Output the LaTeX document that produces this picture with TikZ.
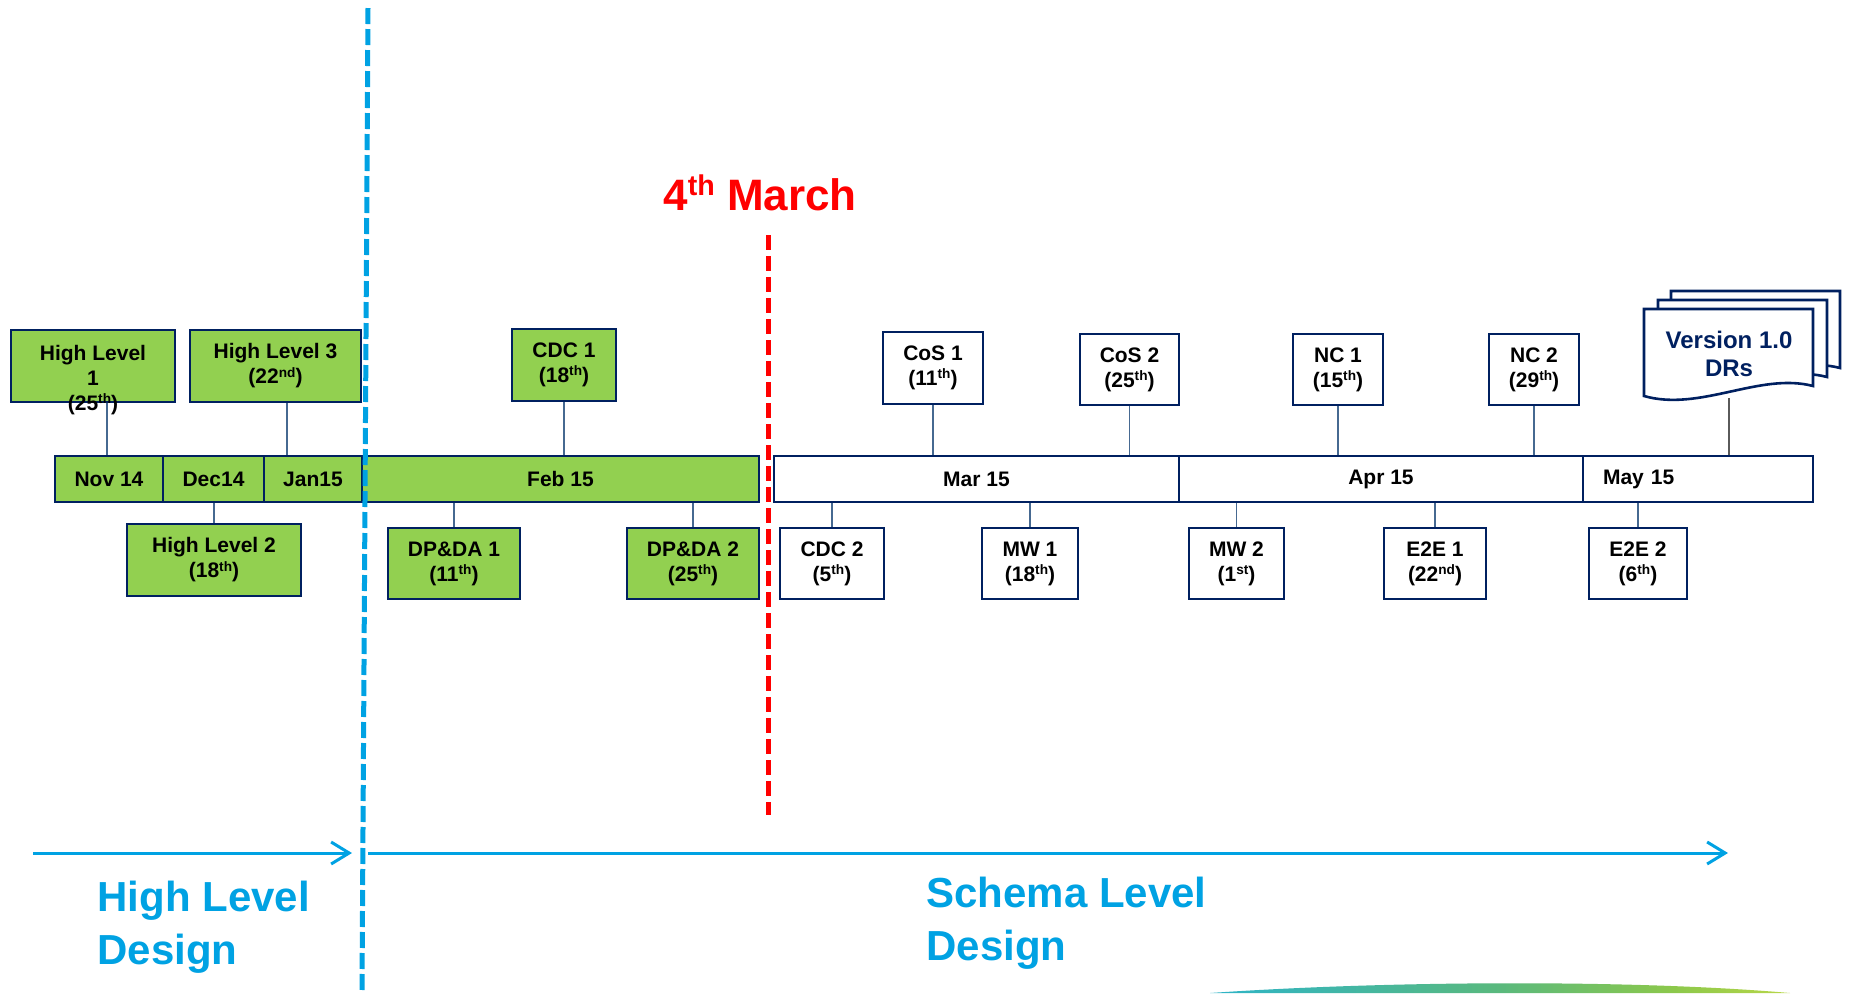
\documentclass[tikz,border=0pt]{standalone}
\usepackage{fontspec}
\setmainfont{Liberation Sans}
\usetikzlibrary{arrows.meta}
\definecolor{gfill}{RGB}{146,208,80}
\definecolor{navy}{RGB}{0,32,96}
\definecolor{conn}{RGB}{70,105,145}
\definecolor{skyb}{RGB}{0,162,227}
\definecolor{vconn}{RGB}{90,90,90}
\definecolor{swA}{RGB}{205,240,246}
\definecolor{swB}{RGB}{45,180,200}
\definecolor{swC}{RGB}{90,185,125}
\definecolor{swD}{RGB}{140,200,75}
\definecolor{swE}{RGB}{215,225,70}
\definecolor{swF}{RGB}{245,248,215}
\pgfdeclarehorizontalshading{swoosh}{100bp}{
  color(0bp)=(white);
  color(8bp)=(swA);
  color(25bp)=(swB);
  color(50bp)=(swC);
  color(65bp)=(swD);
  color(82bp)=(swE);
  color(93bp)=(swF);
  color(100bp)=(white)}
\newcommand{\sps}[1]{\raisebox{0.32em}{\scalebox{0.65}{#1}}}
\tikzset{
 boxtext/.style={font=\bfseries\fontsize{10.5}{12.5}\selectfont, align=center},
 gbox/.style={draw=navy, line width=1.3pt, fill=gfill, inner sep=0pt, boxtext},
 wbox/.style={draw=navy, line width=1.3pt, fill=white, inner sep=0pt, boxtext},
 gbar/.style={draw=navy, line width=1.1pt, fill=gfill, inner sep=0pt, minimum height=23pt, boxtext},
 wbar/.style={draw=navy, line width=1.1pt, fill=white, inner sep=0pt, minimum height=23pt, boxtext},
 conline/.style={draw=conn, line width=0.8pt},
 verline/.style={draw=vconn, line width=0.9pt},
 docshape/.style={draw=navy, line width=1.3pt, fill=white, line join=miter},
 phasearrow/.style={draw=skyb, line width=1.5pt, -{Straight Barb[length=9pt,width=11pt,line width=1.5pt]}},
 phaselabel/.style={text=skyb, font=\bfseries\fontsize{21}{26.5}\selectfont, align=left, anchor=north west, inner sep=0pt},
 phasedivider/.style={draw=skyb, line width=2.5pt, dash pattern=on 8pt off 2.5pt},
 todayline/.style={draw=red, line width=2.5pt, dash pattern=on 7.5pt off 3pt},
}
\begin{document}
\begin{tikzpicture}[x=0.5pt,y=-0.5pt]
\useasboundingbox (0,0) rectangle (1849,993);
\fill[white] (0,0) rectangle (1849,993);

% swoosh at bottom
\shade[shading=swoosh]
  (1210,993) .. controls (1400,980) and (1640,980) .. (1790,993) -- cycle;

% timeline bar
\node[gbar, minimum width=54pt]   (nov) at (109,479)   {Nov 14};
\node[gbar, minimum width=50.5pt] (dec) at (213.5,479) {Dec14};
\node[gbar, minimum width=49pt]   (jan) at (313,479)   {Jan15};
\node[gbar, minimum width=198.5pt](feb) at (560.5,479) {Feb 15};
\node[wbar, minimum width=202.5pt](mar) at (976.5,479) {Mar 15};
\node[wbar, minimum width=202pt]  (apr) at (1381,479)  {Apr 15};
\node[wbar, text width=95pt, inner xsep=10pt, align=left] (may) at (1698,479) {May 15};

% green boxes
\node[gbox, minimum width=82pt, minimum height=36pt] (hl1) at (93,366) {};
\node[boxtext, anchor=north, inner sep=0pt] (hl1t) at (93,345) {High Level\\1\\(25\sps{th})};
\node[gbox, minimum width=85.5pt, minimum height=36pt] (hl3) at (275.5,366) {High Level 3\\(22\sps{nd})};
\node[gbox, minimum width=87pt, minimum height=36pt] (hl2) at (214,560) {High Level 2\\(18\sps{th})};
\node[gbox, minimum width=52pt, minimum height=36pt] (cdc1) at (564,365) {CDC 1\\(18\sps{th})};
\node[gbox, minimum width=66pt, minimum height=35.5pt] (dpda1) at (454,563.5) {DP\&DA 1\\(11\sps{th})};
\node[gbox, minimum width=66pt, minimum height=35.5pt] (dpda2) at (693,563.5) {DP\&DA 2\\(25\sps{th})};

% white boxes
\node[wbox, minimum width=50pt, minimum height=36pt] (cos1) at (933,368) {CoS 1\\(11\sps{th})};
\node[wbox, minimum width=49.5pt, minimum height=35.5pt] (cos2) at (1129.5,369.5) {CoS 2\\(25\sps{th})};
\node[wbox, minimum width=45pt, minimum height=35.5pt] (nc1) at (1338,369.5) {NC 1\\(15\sps{th})};
\node[wbox, minimum width=45pt, minimum height=35.5pt] (nc2) at (1534,369.5) {NC 2\\(29\sps{th})};
\node[wbox, minimum width=52pt, minimum height=35.5pt] (cdc2) at (832,563.5) {CDC 2\\(5\sps{th})};
\node[wbox, minimum width=48pt, minimum height=35.5pt] (mw1) at (1030,563.5) {MW 1\\(18\sps{th})};
\node[wbox, minimum width=47.5pt, minimum height=35.5pt] (mw2) at (1236.5,563.5) {MW 2\\(1\sps{st})};
\node[wbox, minimum width=51pt, minimum height=35.5pt] (e2e1) at (1435,563.5) {E2E 1\\(22\sps{nd})};
\node[wbox, minimum width=49pt, minimum height=35.5pt] (e2e2) at (1638,563.5) {E2E 2\\(6\sps{th})};

% connectors
\coordinate (c1) at ([xshift=7pt]hl1.south);
\draw[conline] (c1) -- (c1 |- nov.north);
\coordinate (c3) at ([xshift=5.75pt]hl3.south);
\draw[conline] (c3) -- (c3 |- jan.north);
\draw[conline] (hl2.north) -- (hl2.north |- dec.south);
\draw[conline] (cdc1.south) -- (cdc1.south |- feb.north);
\draw[conline] (dpda1.north) -- (dpda1.north |- feb.south);
\draw[conline] (dpda2.north) -- (dpda2.north |- feb.south);
\draw[conline] (cos1.south) -- (cos1.south |- mar.north);
\draw[conline] (cos2.south) -- (cos2.south |- mar.north);
\draw[conline] (nc1.south) -- (nc1.south |- apr.north);
\draw[conline] (nc2.south) -- (nc2.south |- apr.north);
\draw[conline] (cdc2.north) -- (cdc2.north |- mar.south);
\draw[conline] (mw1.north) -- (mw1.north |- mar.south);
\draw[conline] (mw2.north) -- (mw2.north |- apr.south);
\draw[conline] (e2e1.north) -- (e2e1.north |- apr.south);
\draw[conline] (e2e2.north) -- (e2e2.north |- may.south);

% multi-document shape
\foreach \dx/\dy in {27/-18,14/-9,0/0} {
  \draw[docshape, shift={(\dx,\dy)}] (1644,309) -- (1813,309) -- (1813,386)
     .. controls (1760,372) and (1700,412) .. (1644,396) -- cycle;
}
\node[font=\bfseries\fontsize{12}{14}\selectfont, text=navy, align=center, inner sep=0pt] (ver) at (1729,354) {Version 1.0\\DRs};
\coordinate (verbot) at (1729,398);
\draw[verline] (verbot) -- (verbot |- may.north);

% today marker
\node[text=red, font=\bfseries\fontsize{22}{26}\selectfont, anchor=base, inner sep=0pt] (march) at (760,210) {4\sps{th} March};
\coordinate (rt) at (768,235);
\coordinate (rb) at (768,815);
\draw[todayline] (rt) -- (rb);

% phase divider
\coordinate (bt) at (368,8);
\coordinate (bb) at (362,993);
\draw[phasedivider] (bt) -- (bb);

% phase arrows
\coordinate (a1s) at (33,853);
\coordinate (a1e) at (352,853);
\coordinate (a2s) at (368,853);
\coordinate (a2e) at (1728,853);
\draw[phasearrow] (a1s) -- (a1e);
\draw[phasearrow] (a2s) -- (a2e);
\node[phaselabel] (hld) at (97,881) {High Level\\Design};
\node[phaselabel] (sld) at (926,877) {Schema Level\\Design};
\end{tikzpicture}
\end{document}
